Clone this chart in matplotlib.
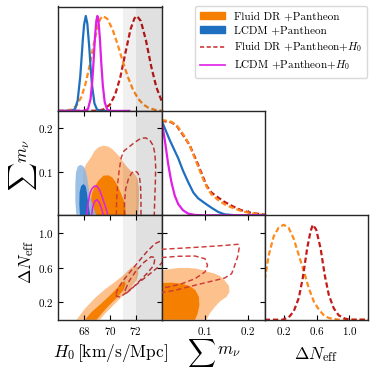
import matplotlib
matplotlib.use('Agg')
import matplotlib.pyplot as plt
from matplotlib.patches import Patch
from matplotlib.lines import Line2D

plt.rcParams.update({
    'font.family': 'serif',
    'font.serif': ['cmr10', 'DejaVu Serif'],
    'mathtext.fontset': 'cm',
    'axes.formatter.use_mathtext': True,
    'axes.unicode_minus': False,
})

# ---------------- data ----------------
labels = ['Fluid DR +Pantheon', 'LCDM +Pantheon',
          r'Fluid DR +Pantheon+$H_0$', r'LCDM +Pantheon+$H_0$']
h0_ticks = [68, 70, 72]
mnu_ticks = [0.1, 0.2]
neff_ticks = [0.2, 0.6, 1.0]
h0_band_2sig = [71.0, 75.0]
h0_band_1sig = [72.0, 75.0]

# 1D H0
blue_h0_x = [66.0, 67.0, 67.3, 67.5, 67.7, 67.8, 67.9, 68.0, 68.13, 68.25, 68.4, 68.5, 68.6, 68.8, 69.0, 69.3, 70.0]
blue_h0_y = [0, 0.001, 0.02, 0.11, 0.36, 0.55, 0.75, 0.91, 1.0, 0.92, 0.67, 0.47, 0.29, 0.08, 0.015, 0.0, 0]
mag_h0_x = [66.0, 68.0, 68.3, 68.5, 68.65, 68.75, 68.85, 68.95, 69.03, 69.12, 69.22, 69.32, 69.45, 69.6, 69.8, 70.1, 71.5]
mag_h0_y = [0, 0.0, 0.02, 0.125, 0.34, 0.56, 0.79, 0.95, 1.0, 0.94, 0.77, 0.53, 0.27, 0.09, 0.012, 0.0, 0]
org_h0_x = [66.0, 66.6, 67.0, 67.4, 67.8, 68.1, 68.4, 68.7, 69.0, 69.25, 69.46, 69.8, 70.2, 70.6, 71.0, 71.4, 71.8, 72.2, 72.6, 73.0, 73.5, 74.0]
org_h0_y = [0, 0.002, 0.015, 0.053, 0.15, 0.28, 0.46, 0.67, 0.86, 0.97, 1.0, 0.97, 0.86, 0.70, 0.52, 0.355, 0.22, 0.127, 0.066, 0.032, 0.011, 0.003]
red_h0_x = [66.0, 69.0, 69.5, 70.0, 70.4, 70.8, 71.2, 71.6, 71.9, 72.1, 72.4, 72.8, 73.2, 73.6, 74.0]
red_h0_y = [0, 0.002, 0.015, 0.066, 0.17, 0.35, 0.61, 0.86, 0.975, 1.0, 0.946, 0.74, 0.47, 0.25, 0.108]

# 1D sum m_nu
red_mnu_x = [0, 0.0078, 0.023, 0.035, 0.043, 0.054, 0.066, 0.074, 0.081, 0.089, 0.097, 0.105, 0.116, 0.132, 0.147, 0.167, 0.186, 0.209, 0.233, 0.24]
red_mnu_y = [1.0, 0.99, 0.98, 0.945, 0.89, 0.82, 0.735, 0.65, 0.58, 0.49, 0.40, 0.31, 0.24, 0.187, 0.14, 0.092, 0.053, 0.025, 0.011, 0.008]
org_mnu_x = [0, 0.0078, 0.023, 0.035, 0.043, 0.054, 0.066, 0.074, 0.081, 0.089, 0.097, 0.105, 0.116, 0.132, 0.147, 0.167, 0.186, 0.209, 0.233, 0.24]
org_mnu_y = [1.0, 1.0, 0.985, 0.95, 0.9, 0.83, 0.73, 0.64, 0.56, 0.47, 0.38, 0.30, 0.22, 0.16, 0.115, 0.075, 0.045, 0.02, 0.008, 0.006]
blue_mnu_x = [0, 0.0194, 0.039, 0.05, 0.062, 0.074, 0.085, 0.1, 0.116, 0.132, 0.147, 0.171, 0.24]
blue_mnu_y = [1.0, 0.79, 0.6, 0.47, 0.35, 0.24, 0.18, 0.13, 0.08, 0.035, 0.01, 0.0, 0.0]
mag_mnu_x = [0, 0.0078, 0.0155, 0.023, 0.031, 0.039, 0.05, 0.062, 0.078, 0.1, 0.24]
mag_mnu_y = [1.0, 0.79, 0.54, 0.35, 0.205, 0.117, 0.053, 0.018, 0.0035, 0.0, 0.0]

# 1D Delta N_eff
org_neff_x = [-0.03, 0.019, 0.08, 0.14, 0.2, 0.26, 0.32, 0.385, 0.446, 0.507, 0.568, 0.63, 0.69, 0.75, 0.87, 1.25]
org_neff_y = [0.42, 0.68, 0.88, 0.97, 1.0, 0.97, 0.86, 0.68, 0.51, 0.33, 0.19, 0.105, 0.046, 0.018, 0.0, 0.0]
red_neff_x = [-0.03, 0.19, 0.263, 0.324, 0.385, 0.433, 0.486, 0.527, 0.555, 0.596, 0.65, 0.7, 0.75, 0.81, 0.87, 0.95, 1.03, 1.25]
red_neff_y = [0, 0.0, 0.025, 0.09, 0.23, 0.44, 0.75, 0.93, 1.0, 0.95, 0.75, 0.47, 0.26, 0.12, 0.046, 0.01, 0.0, 0.0]

# 2D H0 - sum m_nu contours (H0, mnu)
blue95_hm_x = [67.40, 67.32, 67.32, 67.37, 67.50, 67.71, 67.94, 68.12, 68.25, 68.35, 68.48, 68.69, 68.95]
blue95_hm_y = [0, 0.033, 0.072, 0.098, 0.112, 0.116, 0.113, 0.102, 0.085, 0.064, 0.042, 0.022, 0]
blue68_hm_x = [67.68, 67.63, 67.65, 67.76, 67.94, 68.12, 68.22, 68.30, 68.40, 68.48]
blue68_hm_y = [0, 0.025, 0.052, 0.067, 0.072, 0.067, 0.052, 0.033, 0.014, 0]
mag95_hm_x = [68.22, 68.30, 68.43, 68.58, 68.79, 69.0, 69.2, 69.44, 69.67, 69.85]
mag95_hm_y = [0, 0.025, 0.048, 0.06, 0.067, 0.067, 0.058, 0.039, 0.018, 0]
mag68_hm_x = [68.58, 68.66, 68.82, 69.0, 69.18, 69.36, 69.49]
mag68_hm_y = [0, 0.018, 0.032, 0.036, 0.029, 0.015, 0]
org95_hm_x = [68.02, 67.96, 67.91, 67.96, 68.20, 68.53, 68.79, 69.10, 69.49, 69.88, 70.19, 70.52, 70.81, 71.04, 71.30, 71.63, 71.94, 72.15, 72.25, 72.25, 72.20]
org95_hm_y = [0, 0.048, 0.083, 0.106, 0.119, 0.133, 0.147, 0.156, 0.16, 0.158, 0.152, 0.142, 0.133, 0.122, 0.112, 0.102, 0.095, 0.083, 0.06, 0.033, 0]
org68_hm_x = [68.53, 68.51, 68.58, 68.79, 69.10, 69.49, 69.88, 70.19, 70.47, 70.78, 71.04, 71.19, 71.25]
org68_hm_y = [0, 0.025, 0.047, 0.064, 0.079, 0.091, 0.092, 0.087, 0.075, 0.056, 0.037, 0.018, 0]
red95_hm_x = [70.50, 70.52, 70.60, 70.73, 70.88, 71.09, 71.43, 71.94, 72.41, 72.77, 73.11, 73.36, 73.49, 73.55, 73.52, 73.47, 73.44]
red95_hm_y = [0, 0.033, 0.072, 0.106, 0.133, 0.148, 0.156, 0.168, 0.177, 0.178, 0.172, 0.16, 0.141, 0.11, 0.072, 0.033, 0]
red68_hm_x = [71.12, 71.14, 71.22, 71.43, 71.68, 71.94, 72.15, 72.30, 72.38, 72.41, 72.41]
red68_hm_y = [0, 0.033, 0.06, 0.083, 0.097, 0.102, 0.098, 0.087, 0.064, 0.033, 0]

# 2D H0 - Delta N_eff contours (H0, Neff)
org95_hn_x = [67.42, 68.07, 68.84, 69.62, 70.39, 71.04, 71.56, 71.94, 72.15, 72.20, 72.07, 71.56, 70.91, 70.26, 69.62, 69.23]
org95_hn_y = [0, 0.128, 0.251, 0.352, 0.437, 0.514, 0.591, 0.63, 0.611, 0.533, 0.456, 0.359, 0.263, 0.166, 0.07, 0]
org68_hn_x = [68.07, 68.58, 69.23, 69.88, 70.39, 70.86, 71.12, 71.22, 71.04, 70.52, 69.88, 69.36, 68.97]
org68_hn_y = [0, 0.089, 0.174, 0.263, 0.34, 0.417, 0.448, 0.417, 0.34, 0.251, 0.158, 0.07, 0]
red95_hn_x = [70.47, 70.65, 71.04, 71.56, 72.20, 72.85, 73.49, 73.88, 74.27, 74.53, 74.27, 73.75, 73.11, 72.46, 71.81, 71.17, 70.78, 70.52, 70.47]
red95_hn_y = [0.301, 0.367, 0.456, 0.553, 0.669, 0.785, 0.881, 0.908, 0.908, 0.823, 0.707, 0.611, 0.533, 0.456, 0.379, 0.301, 0.263, 0.271, 0.301]
red68_hn_x = [71.2, 71.5, 72.0, 72.6, 73.2, 73.5, 73.4, 72.9, 72.3, 71.7, 71.3, 71.15, 71.2]
red68_hn_y = [0.35, 0.45, 0.56, 0.66, 0.73, 0.72, 0.63, 0.54, 0.45, 0.36, 0.31, 0.32, 0.35]

# 2D sum m_nu - Delta N_eff contours (mnu, Neff)
org95_mn_x = [0, 0, 0.0155, 0.039, 0.062, 0.081, 0.097, 0.109, 0.124, 0.136, 0.147, 0.157, 0.158, 0.151, 0.136, 0.124, 0.112, 0.105]
org95_mn_y = [0, 0.57, 0.584, 0.6, 0.6, 0.592, 0.572, 0.553, 0.534, 0.506, 0.456, 0.39, 0.32, 0.263, 0.213, 0.147, 0.07, 0.0]
org68_mn_x = [0, 0, 0.023, 0.047, 0.066, 0.079, 0.087, 0.088, 0.084, 0.078]
org68_mn_y = [0, 0.425, 0.429, 0.417, 0.39, 0.34, 0.263, 0.166, 0.07, 0]
red95_mn_x = [0, 0.05, 0.1, 0.15, 0.178, 0.181, 0.177, 0.169, 0.163, 0.147, 0.109, 0.07, 0.031, 0]
red95_mn_y = [0.816, 0.83, 0.845, 0.862, 0.874, 0.843, 0.727, 0.611, 0.533, 0.483, 0.437, 0.39, 0.34, 0.313]
red68_mn_x = [0, 0.039, 0.078, 0.101, 0.107, 0.101, 0.078, 0.047, 0.016, 0]
red68_mn_y = [0.72, 0.735, 0.738, 0.707, 0.63, 0.553, 0.475, 0.417, 0.379, 0.368]

# ---------------- style ----------------
C_OR, C_OR_L = '#f57f00', '#fcc18d'
C_BL, C_BL_L = '#1f6fc0', '#8cb6e0'
C_OD = '#ff8a1a'
C_RD = '#c41a1a'
C_RD2 = '#cf3a3a'
C_MG = '#e01fe6'
LW1 = 1.6
DASH1 = (2.4, 1.3)
LW2 = 1.05
DASH2 = (3.5, 2.0)

H0_LIM = (66, 74)
MNU_LIM = (0, 0.24)
NEFF_YLIM = (0, 1.21)
NEFF_XLIM = (-0.03, 1.225)

fig = plt.figure(figsize=(3.74, 3.74), dpi=100)
S = 374.0
col_left = [58.3, 161.5, 264.7]
row_bot = [263.1, 158.7, 54.3]
W, H = 103.2, 104.4


def make_ax(r, c):
    return fig.add_axes([col_left[c] / S, row_bot[r] / S, W / S, H / S])


def style(ax, diag=False):
    for s in ax.spines.values():
        s.set_linewidth(1.0)
        s.set_color('0.15')
    ax.tick_params(direction='in', length=3.5, width=0.8, labelsize=8, pad=3.5,
                   top=not diag, right=not diag, left=not diag)
    if diag:
        ax.set_yticks([])
        ax.set_ylim(0, 1.1)


def bands(ax):
    ax.axvspan(*h0_band_2sig, color='k', alpha=0.06, lw=0, zorder=10)
    ax.axvspan(*h0_band_1sig, color='k', alpha=0.065, lw=0, zorder=10)


# Row 1: H0 1D
ax = make_ax(0, 0)
style(ax, True)
ax.plot(red_h0_x, red_h0_y, color=C_RD, lw=LW1, ls=(0, DASH1))
ax.plot(org_h0_x, org_h0_y, color=C_OD, lw=LW1, ls=(0, DASH1))
ax.plot(blue_h0_x, blue_h0_y, color=C_BL, lw=LW1)
ax.plot(mag_h0_x, mag_h0_y, color=C_MG, lw=LW1)
ax.set_xlim(*H0_LIM)
ax.set_xticks(h0_ticks)
ax.tick_params(labelbottom=False)
bands(ax)

# Row 2, col 1: H0 - mnu
ax = make_ax(1, 0)
style(ax)
ax.fill(org95_hm_x, org95_hm_y, color=C_OR_L, lw=0, zorder=1)
ax.fill(org68_hm_x, org68_hm_y, color=C_OR, lw=0, zorder=2)
ax.fill(blue95_hm_x, blue95_hm_y, color=C_BL_L, alpha=0.85, lw=0, zorder=3)
ax.fill(blue68_hm_x, blue68_hm_y, color=C_BL, lw=0, zorder=4)
ax.plot(mag95_hm_x, mag95_hm_y, color=C_MG, lw=1.1, zorder=5)
ax.plot(mag68_hm_x, mag68_hm_y, color=C_MG, lw=1.1, zorder=5)
ax.plot(red95_hm_x, red95_hm_y, color=C_RD2, lw=LW2, ls=(0, DASH2), zorder=6)
ax.plot(red68_hm_x, red68_hm_y, color=C_RD2, lw=LW2, ls=(0, DASH2), zorder=6)
ax.set_xlim(*H0_LIM)
ax.set_ylim(*MNU_LIM)
ax.set_xticks(h0_ticks)
ax.set_yticks(mnu_ticks)
ax.tick_params(labelbottom=False)
bands(ax)

# Row 2, col 2: mnu 1D
ax = make_ax(1, 1)
style(ax, True)
ax.plot(red_mnu_x, red_mnu_y, color=C_RD, lw=LW1, ls=(0, DASH1))
ax.plot(org_mnu_x, org_mnu_y, color=C_OD, lw=LW1, ls=(0, DASH1))
ax.plot(blue_mnu_x, blue_mnu_y, color=C_BL, lw=LW1)
ax.plot(mag_mnu_x, mag_mnu_y, color=C_MG, lw=LW1)
ax.set_xlim(*MNU_LIM)
ax.set_xticks(mnu_ticks)
ax.tick_params(labelbottom=False)

# Row 3, col 1: H0 - Neff
ax = make_ax(2, 0)
style(ax)
ax.fill(org95_hn_x, org95_hn_y, color=C_OR_L, lw=0, zorder=1)
ax.fill(org68_hn_x, org68_hn_y, color=C_OR, lw=0, zorder=2)
ax.plot(red95_hn_x, red95_hn_y, color=C_RD2, lw=LW2, ls=(0, DASH2), zorder=6)
ax.plot(red68_hn_x, red68_hn_y, color=C_RD2, lw=LW2, ls=(0, DASH2), zorder=6)
ax.set_xlim(*H0_LIM)
ax.set_ylim(*NEFF_YLIM)
ax.set_xticks(h0_ticks)
ax.set_yticks(neff_ticks)
bands(ax)

# Row 3, col 2: mnu - Neff
ax = make_ax(2, 1)
style(ax)
ax.fill(org95_mn_x, org95_mn_y, color=C_OR_L, lw=0, zorder=1)
ax.fill(org68_mn_x, org68_mn_y, color=C_OR, lw=0, zorder=2)
ax.plot(red95_mn_x, red95_mn_y, color=C_RD2, lw=LW2, ls=(0, DASH2), zorder=6)
ax.plot(red68_mn_x, red68_mn_y, color=C_RD2, lw=LW2, ls=(0, DASH2), zorder=6)
ax.set_xlim(*MNU_LIM)
ax.set_ylim(*NEFF_YLIM)
ax.set_xticks(mnu_ticks)
ax.set_yticks(neff_ticks)
ax.tick_params(labelleft=False)

# Row 3, col 3: Neff 1D
ax = make_ax(2, 2)
style(ax, True)
ax.plot(org_neff_x, org_neff_y, color=C_OD, lw=LW1, ls=(0, DASH1))
ax.plot(red_neff_x, red_neff_y, color=C_RD, lw=LW1, ls=(0, DASH1))
ax.set_xlim(*NEFF_XLIM)
ax.set_xticks(neff_ticks)

# axis labels (the summation sign is drawn larger, as a display-style operator)
LBL = 12.5
SUM = 14
fig.text(110 / S, 1 - 353 / S, r'$H_0\,[\mathrm{km/s/Mpc}]$', ha='center', va='center', fontsize=LBL)
fig.text(201 / S, 1 - 353 / S, r'$\sum$', ha='center', va='center', fontsize=SUM)
fig.text(229 / S, 1 - 351 / S, r'$m_\nu$', ha='center', va='center', fontsize=LBL)
fig.text(316 / S, 1 - 355 / S, r'$\Delta N_{\rm eff}$', ha='center', va='center', fontsize=LBL)
fig.text(23 / S, 1 - 177 / S, r'$\sum$', ha='center', va='center', fontsize=SUM, rotation=90)
fig.text(24 / S, 1 - 151 / S, r'$m_\nu$', ha='center', va='center', fontsize=LBL, rotation=90)
fig.text(27 / S, 1 - 262 / S, r'$\Delta N_{\rm eff}$', ha='center', va='center', fontsize=LBL, rotation=90)

# legend
handles = [Patch(facecolor=C_OR, edgecolor=C_OR),
           Patch(facecolor=C_BL, edgecolor=C_BL),
           Line2D([], [], color=C_RD2, lw=1.2, ls=(0, (2.5, 1.5))),
           Line2D([], [], color=C_MG, lw=1.2)]
fig.legend(handles, labels, loc='upper right', bbox_to_anchor=(367.3 / S, 1 - 6 / S),
           bbox_transform=fig.transFigure, borderaxespad=0, fontsize=8,
           handlelength=2.2, handletextpad=0.8, labelspacing=0.38, borderpad=0.5,
           frameon=True, framealpha=1.0, edgecolor='0.85')

fig.savefig('out.png', dpi=100)
